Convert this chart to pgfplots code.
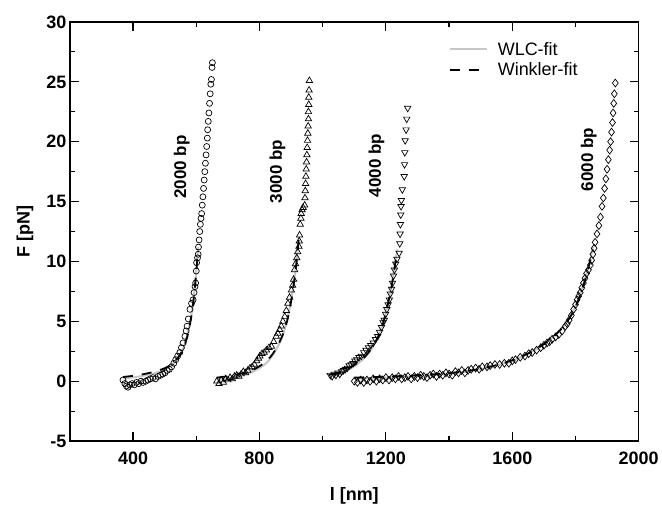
\documentclass[border=0pt]{standalone}
\usepackage{fontspec}
\setmainfont{Liberation Sans}
\usepackage{pgfplots}
\pgfplotsset{compat=1.18}

\begin{document}
\begin{tikzpicture}
\begin{axis}[
    scale only axis,
    width=570pt, height=420pt,
    xmin=200, xmax=2000, ymin=-5, ymax=30,
    xtick={400,800,1200,1600,2000},
    xticklabels={400,800,1200,1600,2000},
    minor xtick={600,1000,1400,1800},
    ytick={-5,0,5,10,15,20,25,30},
    yticklabels={-5,0,5,10,15,20,25,30},
    minor ytick={-2.5,2.5,7.5,12.5,17.5,22.5,27.5},
    tick align=inside,
    major tick length=9pt, minor tick length=5pt,
    axis line style={line width=1.4pt},
    every tick/.append style={line width=1.2pt, black},
    tick label style={font=\bfseries\fontsize{18}{20}\selectfont},
    xticklabel style={yshift=-7pt},
    xlabel={\bfseries l [nm]},
    ylabel={\bfseries F [pN]},
    label style={font=\bfseries\fontsize{18}{22}\selectfont},
    xlabel style={at={(axis description cs:0.5,-0.131)}, anchor=center},
    ylabel style={at={(axis description cs:-0.079,0.5)}, anchor=center},
    legend style={at={(0.666,0.957)}, anchor=north west, draw=none, fill=none,
        font=\fontsize{18}{20}\selectfont, row sep=2pt, inner sep=0pt,
        /tikz/every odd column/.append style={column sep=8pt}},
    legend cell align=left,
    legend image code/.code={\draw[#1] (0pt,0pt) -- (37pt,0pt);},
]
% 2000 bp
\addplot[only marks, mark=o, mark size=3pt, mark options={line width=0.7pt}, forget plot] coordinates {
(368,0.1) (374,-0.2) (379,-0.4) (384,-0.5) (390,-0.3) (397,-0.2) (404,-0.3) (411,-0.1)
(418,-0.2) (425,0.0) (432,-0.1) (440,0.0) (447,0.1) (455,0.2) (463,0.3) (471,0.2)
(479,0.4) (487,0.5) (494,0.6) (501,0.7) (508,0.9) (515,1.0) (522,1.2) (529,1.5)
(535,1.8) (541,2.1) (548,2.4) (553,2.8) (558,3.2) (564,3.75) (568,4.2) (571,4.6)
(575,5.2) (580,6.0) (585,6.5) (590,6.8) (593,7.4) (596,7.9) (598,8.2) (600,9.2)
(601,9.9) (604,10.3) (606,10.6) (607,11.2) (609,11.8) (611,12.5) (613,13.1) (615,13.6)
(617,14.0) (619,14.7) (621,15.4) (623,16.1) (625,16.8) (627,17.5) (629,18.2) (631,18.9)
(633,19.6) (635,20.3) (636,21.0) (638,21.7) (640,22.4) (642,23.2) (644,24.0) (646,24.8)
(648,25.2) (650,26.2) (651,26.6)
};
% 3000 bp
\addplot[only marks, mark=triangle, mark size=3.7pt, mark options={line width=0.7pt}, forget plot] coordinates {
(665,0.0) (672,-0.2) (679,0.1) (686,-0.1) (693,0.2) (700,0.1) (707,0.3) (714,0.2)
(721,0.4) (728,0.5) (735,0.4) (742,0.6) (749,0.8) (756,0.7) (763,0.9) (770,1.1)
(777,1.2) (784,1.4) (791,1.7) (797,1.9) (801,2.1) (808,2.3) (815,2.4) (822,2.6)
(830,2.8) (838,2.9) (845,3.3) (853,3.75) (858,4.0) (864,4.3) (869,4.6) (874,5.0)
(880,5.4) (885,5.9) (890,6.5) (895,7.0) (901,7.6) (905,8.0) (908,8.5) (911,9.3)
(914,9.8) (918,10.3) (921,10.8) (925,11.25) (926,11.7) (927,12.2) (929,13.1) (931,13.6)
(932,14.0) (935,14.3) (938,14.5) (943,14.7) (944,15.3) (945,15.9) (946,16.5) (947,17.1)
(948,17.7) (949,18.3) (950,18.9) (951,19.5) (952,20.1) (953,20.7) (954,21.3) (955,21.9)
(955,22.5) (956,23.1) (956,23.7) (957,24.3) (958,25.1)
};
% 4000 bp
\addplot[only marks, mark=triangle, mark size=3.7pt, mark options={line width=0.7pt, rotate=180}, forget plot] coordinates {
(1024,0.5) (1030,0.4) (1036,0.6) (1042,0.5) (1048,0.7) (1054,0.6) (1060,0.8) (1066,0.9)
(1072,1.0) (1078,1.1) (1084,1.3) (1090,1.4) (1096,1.5) (1102,1.7) (1108,1.8) (1115,2.0)
(1122,2.1) (1130,2.4) (1137,2.6) (1145,2.8) (1152,3.0) (1160,3.2) (1167,3.5) (1174,3.75)
(1180,4.1) (1186,4.5) (1191,4.9) (1195,5.1) (1199,5.6) (1203,6.0) (1207,6.4) (1211,6.8)
(1214,7.3) (1218,7.7) (1221,8.2) (1224,8.8) (1227,9.3) (1231,9.8) (1235,10.2) (1242,10.7)
(1244,11.5) (1245,12.3) (1246,13.1) (1247,13.9) (1248,14.6) (1249,15.1) (1252,16.0) (1258,17.1)
(1259,18.1) (1260,19.1) (1261,20.1) (1264,21.0) (1266,21.9) (1269,22.8)
};
% 6000 bp
\addplot[only marks, mark=diamond, mark size=3.9pt, mark options={line width=0.7pt}, forget plot] coordinates {
(1100,0.0) (1110,-0.1) (1120,0.1) (1130,-0.1) (1140,0.1) (1150,0.0) (1160,0.2) (1170,0.0)
(1180,0.2) (1190,0.1) (1200,0.3) (1210,0.1) (1220,0.3) (1230,0.2) (1240,0.4) (1250,0.2)
(1260,0.3) (1270,0.4) (1280,0.2) (1290,0.4) (1300,0.3) (1310,0.5) (1320,0.4) (1330,0.3)
(1340,0.5) (1350,0.6) (1360,0.4) (1370,0.6) (1380,0.5) (1390,0.7) (1400,0.6) (1410,0.5)
(1420,0.8) (1430,0.7) (1440,0.9) (1450,0.7) (1460,0.9) (1470,1.0) (1484,1.1) (1495,1.0)
(1505,1.2) (1520,1.2) (1530,1.3) (1545,1.4) (1560,1.4) (1575,1.5) (1589,1.5) (1600,1.7)
(1610,1.8) (1625,2.0) (1640,2.1) (1652,2.3) (1663,2.4) (1677,2.6) (1690,2.8) (1700,3.0)
(1710,3.2) (1718,3.3) (1726,3.5) (1737,3.7) (1747,3.9) (1758,4.2) (1768,4.6) (1774,4.8)
(1780,5.1) (1787,5.5) (1794,6.0) (1800,6.4) (1805,6.8) (1810,7.1) (1815,7.4) (1820,7.8)
(1825,8.2) (1830,8.6) (1835,9.0) (1841,9.3) (1847,9.7) (1851,10.1) (1855,10.6) (1859,11.1)
(1862,11.6) (1868,12.3) (1874,13.0) (1879,13.7) (1884,14.6) (1888,15.3) (1892,16.1) (1896,16.9)
(1900,17.7) (1904,18.5) (1908,19.3) (1911,20.0) (1914,20.8) (1917,21.6) (1919,22.4) (1921,23.2)
(1923,24.0) (1926,24.9)
};
% fits
\addplot[black!22, line width=2pt, smooth] coordinates {
(368,0.25) (400,0.32) (425,0.42) (450,0.55) (475,0.72) (500,0.97) (520,1.3) (540,1.85)
(555,2.5) (565,3.2) (575,4.2) (585,5.6) (592,7.0) (598,8.6) (603,10.2) (606,11.2)
};
\addlegendentry{WLC-fit}
\addplot[black, line width=1.8pt, dash pattern=on 10pt off 9pt, smooth] coordinates {
(368,0.35) (400,0.45) (425,0.55) (450,0.68) (475,0.85) (500,1.08) (520,1.38) (540,1.9)
(555,2.5) (565,3.15) (575,4.1) (585,5.5) (592,6.9) (598,8.5) (603,10.1) (606,11.0)
};
\addlegendentry{Winkler-fit}
\addplot[black!22, line width=2pt, smooth, forget plot] coordinates {
(665,0.15) (700,0.25) (735,0.42) (770,0.7) (800,1.1) (825,1.6) (845,2.3) (862,3.1)
(877,4.1) (890,5.4) (901,6.9) (910,8.5) (918,10.2) (924,12.0)
};
\addplot[black, line width=1.8pt, dash pattern=on 10pt off 9pt, smooth, forget plot] coordinates {
(665,0.3) (700,0.42) (735,0.6) (770,0.85) (800,1.25) (825,1.75) (845,2.4) (862,3.2)
(877,4.1) (890,5.3) (901,6.8) (910,8.4) (918,10.1) (924,11.8)
};
\addplot[black!22, line width=2pt, smooth, forget plot] coordinates {
(1024,0.45) (1050,0.62) (1075,0.88) (1100,1.25) (1130,1.9) (1155,2.7) (1175,3.7) (1192,5.0)
(1207,6.6) (1220,8.3) (1230,10.0) (1236,11.0)
};
\addplot[black, line width=1.8pt, dash pattern=on 10pt off 9pt, smooth, forget plot] coordinates {
(1024,0.55) (1050,0.72) (1075,0.98) (1100,1.35) (1130,1.95) (1155,2.75) (1175,3.7) (1192,4.9)
(1207,6.5) (1220,8.2) (1230,9.9) (1236,10.8)
};
\addplot[black!22, line width=2pt, smooth, forget plot] coordinates {
(1100,0.2) (1200,0.3) (1300,0.42) (1400,0.62) (1480,0.9) (1550,1.3) (1610,1.8) (1660,2.45)
(1700,3.1) (1740,4.0) (1770,4.9) (1795,6.0) (1815,7.3) (1832,8.7) (1846,10.1) (1855,11.2)
};
\addplot[black, line width=1.8pt, dash pattern=on 10pt off 9pt, smooth, forget plot] coordinates {
(1100,0.3) (1200,0.38) (1300,0.5) (1400,0.68) (1480,0.95) (1550,1.35) (1610,1.85) (1660,2.45)
(1700,3.1) (1740,3.95) (1770,4.85) (1795,5.9) (1815,7.2) (1832,8.6) (1846,10.0) (1855,11.0)
};
\node[rotate=90, font=\bfseries\fontsize{17}{20}\selectfont] at (axis cs:554,17.9) {2000 bp};
\node[rotate=90, font=\bfseries\fontsize{17}{20}\selectfont] at (axis cs:857,17.5) {3000 bp};
\node[rotate=90, font=\bfseries\fontsize{17}{20}\selectfont] at (axis cs:1170,18.0) {4000 bp};
\node[rotate=90, font=\bfseries\fontsize{17}{20}\selectfont] at (axis cs:1842,18.5) {6000 bp};
\end{axis}
\path[use as bounding box] (current axis.south west) ++(-70pt,-62pt) rectangle ++(662pt,504pt);
\end{tikzpicture}
\end{document}
